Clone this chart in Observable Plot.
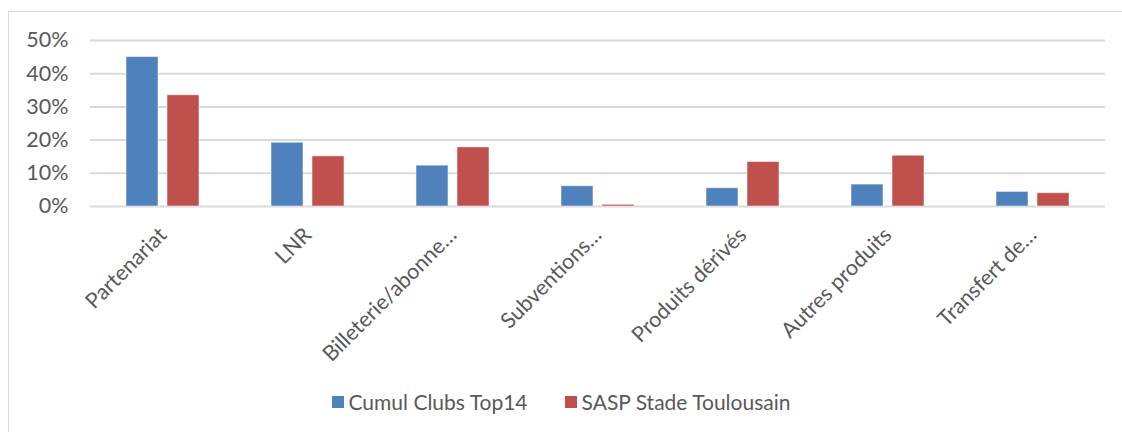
<!DOCTYPE html>
<html>
<head>
<meta charset="utf-8">
<script src="https://cdn.jsdelivr.net/npm/d3@7"></script>
<script src="https://cdn.jsdelivr.net/npm/@observablehq/plot@0.6"></script>
<style>
  html, body { margin: 0; padding: 0; background: #fff; }
  body { width: 1122px; height: 432px; position: relative; overflow: hidden; font-family: Lato, "Open Sans", sans-serif; }
  #frame { position: absolute; left: 8px; top: 11px; width: 1130px; height: 440px; border: 1.5px solid #D9D9D9; box-sizing: border-box; }
  #chart { position: absolute; left: 0; top: 0; }
  #legend { position: absolute; left: 0; top: 389px; width: 1122px; display: flex; justify-content: center; gap: 0; font-size: 21px; color: #595959; }
  .item { display: flex; align-items: center; }
  .sw { width: 12px; height: 12px; margin-right: 5px; }
</style>
</head>
<body>
<div id="frame"></div>
<div id="chart"></div>
<div id="legend"></div>
<script>
const categories = ["Partenariat", "LNR", "Billeterie/abonne…", "Subventions…", "Produits dérivés", "Autres produits", "Transfert de…"];
const seriesNames = ["Cumul Clubs Top14", "SASP Stade Toulousain"];
const cumulTop14 = [0.450, 0.192, 0.123, 0.061, 0.055, 0.066, 0.044];
const stadeToulousain = [0.335, 0.151, 0.178, 0.005, 0.134, 0.153, 0.040];
const colors = ["#4F81BD", "#C0504D"];
const yTicks = [0, 0.1, 0.2, 0.3, 0.4, 0.5];

const data = [];
categories.forEach((c, i) => {
  data.push({category: c, series: seriesNames[0], value: cumulTop14[i]});
  data.push({category: c, series: seriesNames[1], value: stadeToulousain[i]});
});

const plot = Plot.plot({
  width: 1122,
  height: 380,
  marginLeft: 89,
  marginRight: 17,
  marginTop: 40,
  marginBottom: 174,
  style: {fontFamily: "Lato, 'Open Sans', sans-serif", color: "#595959", background: "transparent"},
  fx: {domain: categories, padding: 0, label: null},
  x: {domain: seriesNames, paddingInner: 0.22, paddingOuter: 0.86, axis: null},
  y: {domain: [0, 0.5], label: null},
  color: {domain: seriesNames, range: colors},
  marks: [
    Plot.gridY(yTicks, {stroke: "#D9D9D9", strokeOpacity: 1, strokeWidth: 2}),
    Plot.barY(data, {fx: "category", x: "series", y: "value", fill: "series", stroke: "#ffffff", strokeOpacity: 0.5, strokeWidth: 1}),
    Plot.axisY(yTicks, {tickSize: 0, tickPadding: 22, tickFormat: d => Math.round(d * 100) + "%", fontSize: 21.5, fill: "#595959", label: null}),
    Plot.axisFx({anchor: "bottom", tickSize: 0, tickPadding: 25, tickRotate: -45, fontSize: 21.5, fill: "#595959", label: null})
  ]
});
document.getElementById("chart").appendChild(plot);

const legend = document.getElementById("legend");
seriesNames.forEach((s, i) => {
  const item = document.createElement("div");
  item.className = "item";
  item.style.marginRight = i === 0 ? "37px" : "0";
  const sw = document.createElement("span");
  sw.className = "sw";
  sw.style.background = colors[i];
  const t = document.createElement("span");
  t.textContent = s;
  item.appendChild(sw);
  item.appendChild(t);
  legend.appendChild(item);
});
</script>
</body>
</html>
